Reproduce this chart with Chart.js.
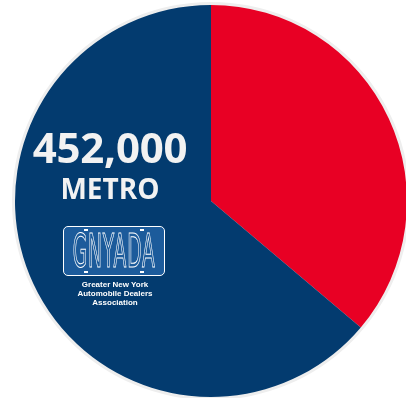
<!DOCTYPE html>
<html>
<head>
<meta charset="utf-8">
<script src="https://cdn.jsdelivr.net/npm/chart.js@4"></script>
<style>
  html, body { margin: 0; padding: 0; background: #fff; overflow: hidden; }
  #wrap { position: relative; width: 422px; height: 398px; }
  .lbl { position: absolute; color: #f2f2f2; text-align: center; font-family: "Open Sans", sans-serif; font-weight: 700; white-space: nowrap; }
  #big { left: 10px; width: 200px; top: 119px; font-size: 42px; line-height: 56px; letter-spacing: -0.2px; }
  #metro { left: 10px; width: 200px; top: 170px; font-size: 28px; line-height: 36px; }
  #plate { position: absolute; left: 63px; top: 226px; width: 100px; height: 48px; border: 1.5px solid #fff; border-radius: 5px; background: #1c5b9b; overflow: hidden; display: flex; justify-content: center; align-items: center; }
  #plate span { display: inline-block; font-family: "DejaVu Sans Condensed", "DejaVu Sans", sans-serif; font-size: 46px; line-height: 48px; color: transparent; -webkit-text-stroke: 1.1px #fff; transform: scaleX(0.45); letter-spacing: 2px; white-space: nowrap; }
  #plate i { position: absolute; width: 4px; height: 2px; background: #fff; }
  #assoc { position: absolute; left: 55px; width: 120px; top: 280px; text-align: center; color: #fff; font-family: "Liberation Sans", Arial, sans-serif; font-weight: 700; font-size: 8px; line-height: 9px; }
</style>
</head>
<body>
<div id="wrap">
  <canvas id="pie"></canvas>
  <div class="lbl" id="big">452,000</div>
  <div class="lbl" id="metro">METRO</div>
  <div id="plate"><span>GNYADA</span><i style="left:20px;top:2px"></i><i style="left:76px;top:2px"></i><i style="left:20px;bottom:2px"></i><i style="left:76px;bottom:2px"></i></div>
  <div id="assoc">Greater New York<br>Automobile Dealers<br>Association</div>
</div>
<script>
const categories = ["Other", "Metro"];
const values = [256000, 452000];
const colors = ["#e80024", "#033b6f"];

// light grey rim behind the pie
const rimPlugin = {
    id: "rim",
    beforeDatasetsDraw(chart) {
        const arc = chart.getDatasetMeta(0).data[0];
        if (!arc) return;
        const ctx = chart.ctx;
        ctx.save();
        ctx.beginPath();
        ctx.arc(arc.x, arc.y, arc.outerRadius + 3, 0, Math.PI * 2);
        ctx.fillStyle = "#eeeeee";
        ctx.fill();
        ctx.restore();
    },
};

new Chart(document.getElementById("pie").getContext("2d"), {
    type: "pie",
    data: {
        labels: categories,
        datasets: [{ data: values, backgroundColor: colors, borderWidth: 0, hoverOffset: 0 }],
    },
    options: {
        responsive: true,
        maintainAspectRatio: false,
        animation: false,
        layout: { padding: { left: 15, right: 15, top: 5, bottom: 1 } },
        plugins: { legend: { display: false }, tooltip: { enabled: false } },
    },
    plugins: [rimPlugin],
});
</script>
</body>
</html>
